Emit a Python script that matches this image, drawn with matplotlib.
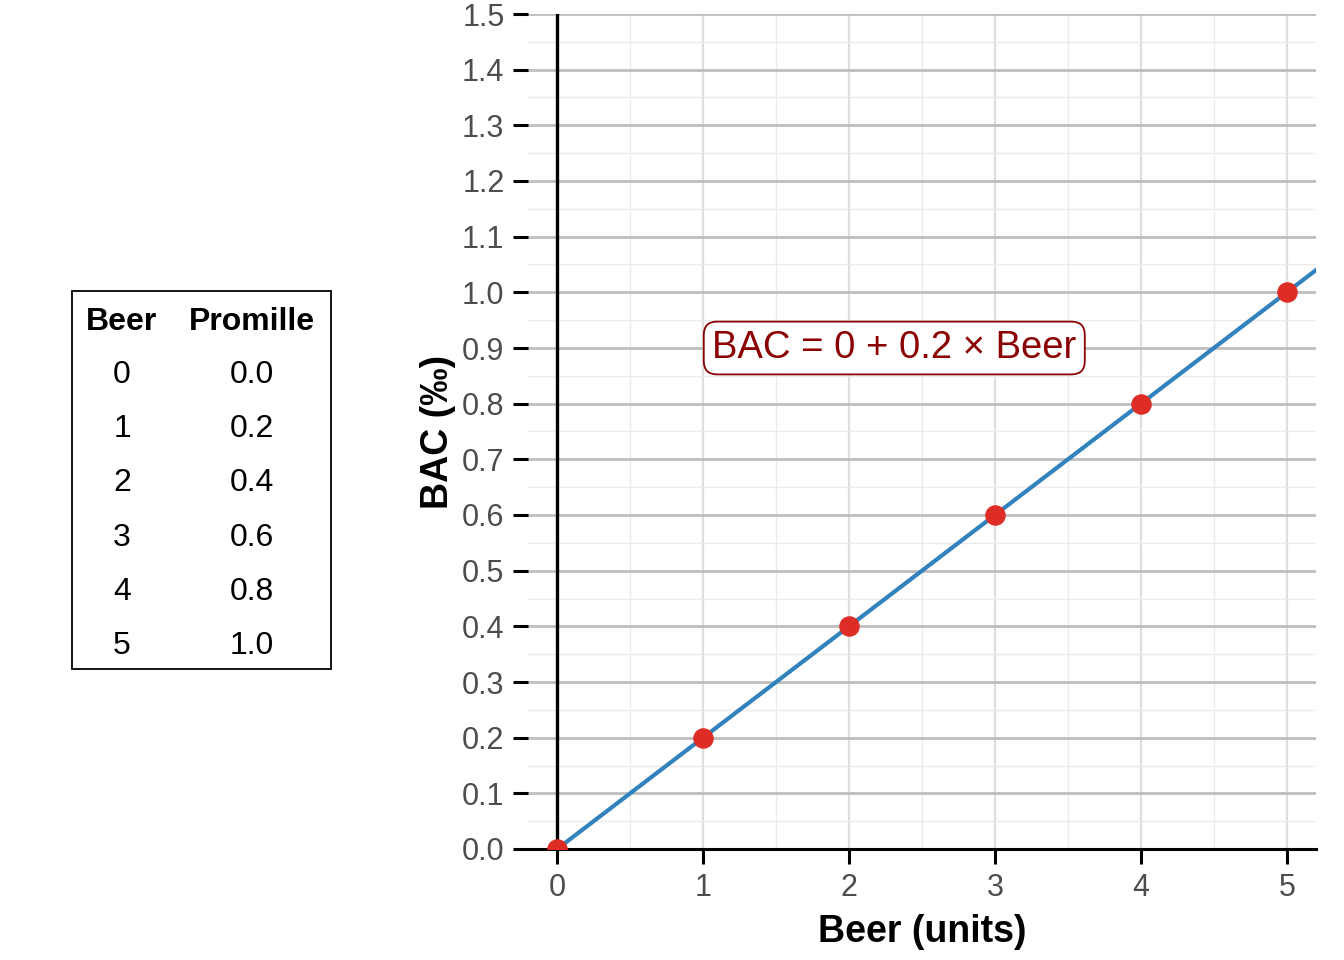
import matplotlib
matplotlib.use("Agg")
import matplotlib.pyplot as plt
from matplotlib.patches import Rectangle
import numpy as np

plt.rcParams['font.family'] = ['Liberation Sans', 'DejaVu Sans']

# data
beer = [0, 1, 2, 3, 4, 5]
promille = [0.0, 0.2, 0.4, 0.6, 0.8, 1.0]
intercept = 0
slope = 0.2
label_text = "BAC = 0 + 0.2 × Beer"

fig = plt.figure(figsize=(13.44, 9.6), dpi=100)
ax = fig.add_axes([528 / 1344, 1 - 849 / 960, (1316 - 528) / 1344, (849 - 14) / 960])

# grid
ax.set_yticks(np.arange(0, 1.51, 0.1))
ax.set_yticks(np.arange(0.05, 1.5, 0.1), minor=True)
ax.set_xticks(beer)
ax.set_xticks(np.arange(0.5, 5.1, 1), minor=True)
ax.set_xlim(-0.2, 5.2)
ax.set_ylim(0, 1.5)
ax.grid(axis='y', which='major', color='#bebebe', lw=2)
ax.grid(axis='y', which='minor', color='#ebebeb', lw=1)
ax.grid(axis='x', which='major', color='#dedede', lw=1.6)
ax.grid(axis='x', which='minor', color='#ebebeb', lw=1)
ax.set_axisbelow(True)

for s in ['top', 'right', 'left']:
    ax.spines[s].set_visible(False)
ax.spines['bottom'].set_linewidth(2.2)
ax.axvline(0, color='black', lw=2.4, zorder=2)

ax.tick_params(axis='both', which='major', length=11, width=2.2, color='black',
               labelsize=22, labelcolor='#4d4d4d')
ax.tick_params(axis='y', pad=6)
ax.tick_params(axis='x', pad=6)
ax.tick_params(which='minor', length=0)
ax.set_yticklabels([f"{v:.1f}" for v in np.arange(0, 1.51, 0.1)])

# regression line and points
xs = np.array(ax.get_xlim())
ax.plot(xs, intercept + slope * xs, color='#3182bd', lw=3, zorder=3)
ax.scatter(beer, promille, s=190, color='#de2d26', zorder=4, clip_on=True)

ax.text(2.31, 0.9, label_text, fontsize=27.5, color='#8b0000', ha='center', va='center',
        bbox=dict(boxstyle='round,pad=0.22,rounding_size=0.35', fc='white', ec='#8b0000', lw=1.3),
        zorder=5)

ax.set_xlabel("Beer (units)", fontsize=27, fontweight='bold', labelpad=8)
ax.set_ylabel("BAC (‰)", fontsize=27, fontweight='bold', labelpad=4)

# table on the left
fig.patches.append(Rectangle((72 / 1344, 1 - 669 / 960), (331 - 72) / 1344, (669 - 291) / 960,
                             transform=fig.transFigure, fill=False, ec='black', lw=1.3))
col_x = [122 / 1344, 252 / 1344]
fig.text(col_x[0], 1 - 322 / 960, "Beer", ha='center', va='center', fontsize=23, fontweight='bold')
fig.text(col_x[1], 1 - 322 / 960, "Promille", ha='center', va='center', fontsize=23, fontweight='bold')
for i, (b, p) in enumerate(zip(beer, promille)):
    y = 1 - (375 + i * 54.2) / 960
    fig.text(col_x[0], y, f"{b}", ha='center', va='center', fontsize=23)
    fig.text(col_x[1], y, f"{p:.1f}", ha='center', va='center', fontsize=23)

fig.savefig("out.png", dpi=100)
